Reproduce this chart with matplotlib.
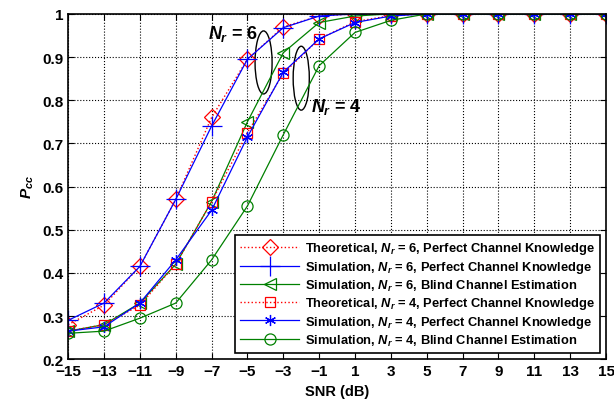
import matplotlib
matplotlib.use("Agg")
import matplotlib.pyplot as plt
from matplotlib.patches import Ellipse
from matplotlib import font_manager

snr = [-15, -13, -11, -9, -7, -5, -3, -1, 1, 3, 5, 7, 9, 11, 13, 15]
theo6 = [0.28, 0.325, 0.415, 0.57, 0.76, 0.895, 0.97, 0.995, 1.0, 1.0, 1.0, 1.0, 1.0, 1.0, 1.0, 1.0]
sim6 = [0.29, 0.33, 0.415, 0.57, 0.74, 0.895, 0.968, 0.995, 1.0, 1.0, 1.0, 1.0, 1.0, 1.0, 1.0, 1.0]
blind6 = [0.265, 0.28, 0.33, 0.42, 0.565, 0.75, 0.91, 0.98, 0.995, 1.0, 1.0, 1.0, 1.0, 1.0, 1.0, 1.0]
theo4 = [0.265, 0.28, 0.325, 0.42, 0.565, 0.725, 0.862, 0.942, 0.982, 0.996, 1.0, 1.0, 1.0, 1.0, 1.0, 1.0]
sim4 = [0.265, 0.275, 0.33, 0.43, 0.545, 0.715, 0.865, 0.942, 0.98, 0.995, 1.0, 1.0, 1.0, 1.0, 1.0, 1.0]
blind4 = [0.26, 0.265, 0.295, 0.33, 0.43, 0.555, 0.72, 0.88, 0.957, 0.985, 1.0, 1.0, 1.0, 1.0, 1.0, 1.0]

names = {f.name for f in font_manager.fontManager.ttflist}
fam = 'Liberation Sans Narrow' if 'Liberation Sans Narrow' in names else 'Liberation Sans'
plt.rcParams['font.family'] = [fam, 'DejaVu Sans']
plt.rcParams['mathtext.fontset'] = 'custom'
plt.rcParams['mathtext.it'] = fam + ':italic:bold'
plt.rcParams['mathtext.rm'] = fam + ':bold'
plt.rcParams['mathtext.bf'] = fam + ':bold'

fig = plt.figure(figsize=(6.14, 4.02), dpi=100)
ax = fig.add_axes([0.111, 0.104, 0.876, 0.859])

ax.plot(snr, theo6, color='red', ls=':', lw=1, marker='D', ms=8, mfc='none', mew=0.9,
        label=r'Theoretical, $N_r$ = 6, Perfect Channel Knowledge')
ax.plot(snr, sim6, color='blue', ls='-', lw=0.9, marker='+', ms=14, mew=0.9,
        label=r'Simulation, $N_r$ = 6, Perfect Channel Knowledge')
ax.plot(snr, blind6, color='green', ls='-', lw=0.9, marker='<', ms=8, mfc='none', mew=0.9,
        label=r'Simulation, $N_r$ = 6, Blind Channel Estimation')
ax.plot(snr, theo4, color='red', ls=':', lw=1, marker='s', ms=7, mfc='none', mew=0.9,
        label=r'Theoretical, $N_r$ = 4, Perfect Channel Knowledge')
ax.plot(snr, sim4, color='blue', ls='-', lw=0.9, marker=(6, 2, 0), ms=8, mew=0.9,
        label=r'Simulation, $N_r$ = 4, Perfect Channel Knowledge')
ax.plot(snr, blind4, color='green', ls='-', lw=0.9, marker='o', ms=8, mfc='none', mew=0.9,
        label=r'Simulation, $N_r$ = 4, Blind Channel Estimation')

ax.add_patch(Ellipse((-4.1, 0.8875), 0.95, 0.146, fill=False, ec='black', lw=1))
ax.add_patch(Ellipse((-2.0, 0.851), 0.9, 0.148, fill=False, ec='black', lw=1))
ax.text(-4.4, 0.955, r'$N_r$ = 6', ha='right', va='center', fontsize=13, fontweight='bold')
ax.text(-1.45, 0.787, r'$N_r$ = 4', ha='left', va='center', fontsize=13, fontweight='bold')

ax.set_xlim(-15, 15)
ax.set_ylim(0.2, 1.0)
ax.set_xticks(snr)
ax.set_xticklabels([('\u2212' + str(-v)) if v < 0 else str(v) for v in snr])
ax.set_yticks([0.2, 0.3, 0.4, 0.5, 0.6, 0.7, 0.8, 0.9, 1.0])
ax.set_yticklabels(['0.2', '0.3', '0.4', '0.5', '0.6', '0.7', '0.8', '0.9', '1'])
ax.tick_params(direction='in', top=True, right=True, labelsize=11, length=4)
for lab in ax.get_xticklabels() + ax.get_yticklabels():
    lab.set_fontweight('bold')
ax.grid(True, color='black', ls=':', lw=0.8)
for s in ax.spines.values():
    s.set_linewidth(1.2)
ax.set_xlabel('SNR (dB)', fontweight='bold', fontsize=10.5)
ax.set_ylabel(r'$P_{cc}$', fontsize=11)

leg = ax.legend(loc='lower right', prop={'weight': 'bold', 'size': 9.3},
                fancybox=False, edgecolor='black', framealpha=1, handlelength=4.6,
                borderaxespad=0.5, labelspacing=0.2, handletextpad=0.4)
leg.get_frame().set_linewidth(1.2)

fig.savefig('out.png', dpi=100)
